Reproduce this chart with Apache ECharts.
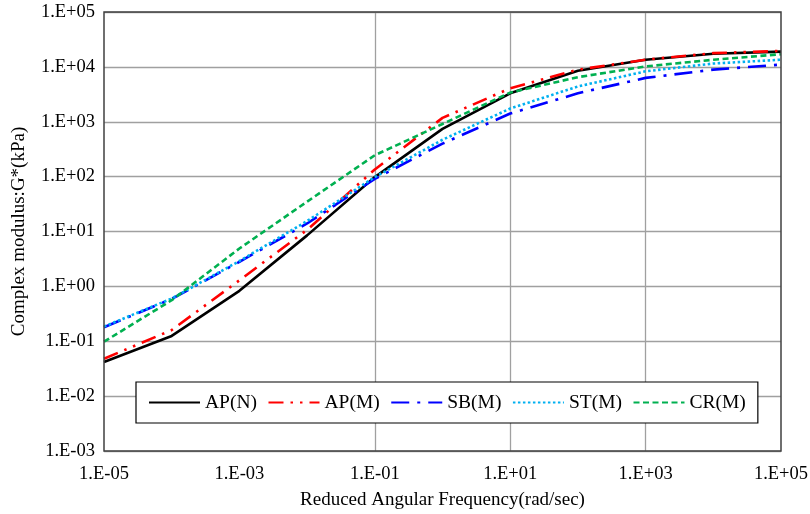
<!DOCTYPE html>
<html><head><meta charset="utf-8">
<script src="https://cdn.jsdelivr.net/npm/echarts@6/dist/echarts.min.js"></script>
<style>html,body{margin:0;padding:0;background:#fff}#c{width:810px;height:514px}</style>
</head><body><div id="c"></div>
<script>
const frequencies = [1e-5, 1e-4, 1e-3, 1e-2, 1e-1, 1, 10, 100, 1000, 10000, 100000];
const seriesNames = ['AP(N)', 'AP(M)', 'SB(M)', 'ST(M)', 'CR(M)'];
const apN = [0.042, 0.125, 0.83, 8.5, 98, 740, 3300, 8500, 13500, 17400, 19000];
const apM = [0.048, 0.16, 1.29, 10.7, 135, 1175, 4070, 8900, 13500, 17800, 19500];
const sbM = [0.18, 0.59, 2.8, 14, 91, 400, 1410, 3300, 6300, 8900, 11000];
const stM = [0.185, 0.6, 2.9, 15.5, 98, 470, 1740, 4400, 8300, 11500, 13500];
const crM = [0.098, 0.56, 4.9, 35, 245, 910, 3400, 6500, 10200, 13500, 17000];
const xGridLines = [1e-3, 1e-1, 1e1, 1e3];

const FONT = 'Liberation Serif';
function expLabel(v) {
  const e = Math.round(Math.log10(v));
  const s = e < 0 ? '-' : '+';
  const a = Math.abs(e);
  return '1.E' + s + (a < 10 ? '0' : '') + a;
}
function pairs(arr) { return frequencies.map((f, i) => [f, arr[i]]); }

const styles = [
  { color: '#000000', type: 'solid' },
  { color: '#FF0000', type: [15, 7, 2.5, 7, 2.5, 7] },
  { color: '#0000FF', type: [18, 8, 3, 8] },
  { color: '#00B0F0', type: [2.5, 2.5] },
  { color: '#00B050', type: [6, 3.5] }
];
const datas = [apN, apM, sbM, stM, crM];

const series = seriesNames.map((n, i) => ({
  name: n, type: 'line', data: pairs(datas[i]), showSymbol: false, symbol: 'none',
  z: 3,
  lineStyle: { color: styles[i].color, type: styles[i].type, width: 2.6 },
  itemStyle: { color: styles[i].color }
}));
series[0].markLine = {
  silent: true, symbol: 'none', z: 1, animation: false,
  label: { show: false },
  lineStyle: { color: '#a0a0a0', type: 'solid', width: 1.3 },
  data: xGridLines.map(v => ({ xAxis: v }))
};

const chart = echarts.init(document.getElementById('c'), null, { renderer: 'canvas' });
chart.setOption({
  animation: false,
  backgroundColor: '#fff',
  textStyle: { fontFamily: FONT, color: '#000' },
  grid: { left: 104, right: 29, top: 12, bottom: 63, outerBoundsMode: 'none', containLabel: false, show: true, borderColor: '#404040', borderWidth: 1.5, backgroundColor: 'transparent', z: 4 },
  legend: {
    left: 136, top: 382,
    padding: [10.5, 12, 10.5, 12],
    borderColor: '#000', borderWidth: 1.2, backgroundColor: '#fff',
    itemWidth: 51, itemHeight: 14, itemGap: 10.5,
    itemStyle: { opacity: 0 },
    textStyle: { fontFamily: FONT, fontSize: 19.5, color: '#000' },
    data: seriesNames
  },
  xAxis: {
    type: 'log', logBase: 10, min: 1e-5, max: 1e5, interval: 1,
    name: 'Reduced Angular Frequency(rad/sec)', nameLocation: 'middle', nameGap: 40,
    nameTextStyle: { fontFamily: FONT, fontSize: 19, color: '#000' },
    axisLine: { show: false }, axisTick: { show: false },
    splitLine: { show: false },
    axisLabel: {
      fontFamily: FONT, fontSize: 18.5, color: '#000', margin: 14,
      formatter: v => { const e = Math.round(Math.log10(v)); return (Math.abs(e) % 2 === 1) ? expLabel(v) : ''; }
    }
  },
  yAxis: {
    type: 'log', logBase: 10, min: 1e-3, max: 1e5, interval: 1,
    name: 'Complex modulus:G*(kPa)', nameLocation: 'middle', nameGap: 75,
    nameTextStyle: { fontFamily: FONT, fontSize: 19, color: '#000' },
    axisLine: { show: false }, axisTick: { show: false },
    splitLine: { show: true, lineStyle: { color: '#a0a0a0', width: 1.3 } },
    axisLabel: { fontFamily: FONT, fontSize: 18.5, color: '#000', margin: 9, formatter: expLabel }
  },
  series: series
});
</script>
</body></html>
